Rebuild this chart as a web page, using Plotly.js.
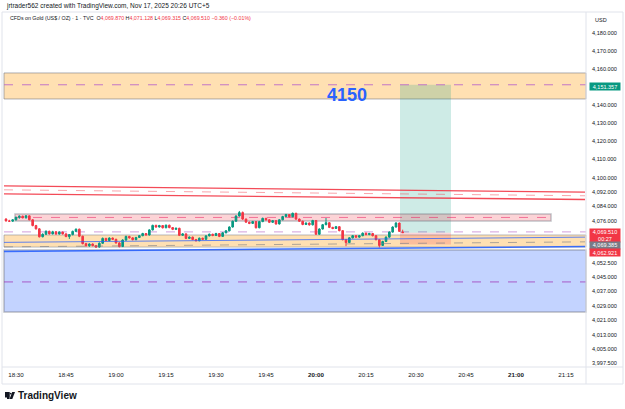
<!DOCTYPE html>
<html>
<head>
<meta charset="utf-8">
<script src="https://cdn.plot.ly/plotly-3.0.1.min.js"></script>
<style>
html,body{margin:0;padding:0;background:#ffffff;}
#chart{width:625px;height:409px;}
</style>
</head>
<body>
<div id="chart"></div>
<script>
// ---- Data (1-minute candles, 18:27 .. 20:26) ----
const startTime = '2025-11-17 18:27';
const openP = [4077.0,4076.0,4075.8,4076.6,4078.0,4078.6,4077.7,4078.8,4076.6,4073.4,
4071.6,4067.2,4068.6,4070.2,4068.8,4070.0,4068.7,4069.8,4068.8,4067.3,
4068.4,4070.2,4071.4,4067.5,4063.4,4062.2,4063.2,4062.3,4061.5,4063.6,
4066.3,4065.1,4066.5,4065.8,4063.8,4061.8,4065.4,4067.4,4066.6,4065.6,
4066.8,4067.8,4069.0,4068.2,4071.0,4073.5,4072.6,4073.4,4072.2,4073.6,
4072.3,4071.3,4071.9,4068.0,4068.8,4066.3,4067.0,4065.7,4065.0,4066.4,
4065.8,4067.7,4068.6,4067.9,4069.0,4067.4,4069.4,4070.5,4072.6,4075.8,
4078.7,4080.6,4077.0,4075.3,4074.6,4075.6,4072.2,4075.6,4077.4,4076.6,
4075.2,4076.1,4074.3,4076.6,4078.4,4079.5,4078.3,4080.2,4077.0,4075.8,
4074.0,4074.8,4073.8,4076.2,4068.6,4071.5,4073.9,4075.0,4072.4,4071.8,
4072.8,4070.6,4065.6,4064.0,4066.6,4067.8,4067.0,4067.8,4069.2,4068.4,
4069.0,4067.8,4065.6,4062.4,4064.6,4067.0,4069.8,4072.6,4074.8,4069.87];
const highP = [4077.5,4076.6,4076.9,4078.3,4079.0,4078.9,4079.2,4079.0,4076.9,4073.8,
4072.0,4069.1,4070.8,4070.6,4070.5,4070.3,4070.2,4070.1,4069.1,4068.7,
4070.6,4071.8,4071.7,4067.8,4063.8,4063.6,4063.5,4062.6,4064.1,4066.8,
4066.6,4066.9,4066.8,4066.1,4064.2,4065.8,4067.8,4067.7,4066.9,4067.2,
4068.2,4069.4,4069.3,4071.4,4073.9,4073.9,4073.8,4073.7,4074.0,4073.9,
4072.6,4072.3,4072.2,4069.2,4069.1,4067.4,4067.3,4066.0,4066.8,4066.7,
4068.1,4069.0,4068.9,4069.4,4069.3,4069.8,4070.9,4073.0,4076.2,4079.1,
4081.5,4081.2,4077.3,4075.6,4076.0,4075.9,4076.0,4077.8,4077.7,4076.9,
4076.5,4076.4,4077.0,4078.8,4079.9,4079.8,4080.6,4080.5,4077.3,4076.1,
4075.2,4075.1,4076.6,4076.5,4071.9,4074.3,4077.6,4075.3,4072.7,4073.2,
4073.1,4070.9,4065.9,4067.0,4068.2,4068.1,4068.2,4069.6,4069.5,4069.4,
4069.3,4068.1,4065.9,4065.0,4067.4,4070.2,4073.0,4075.3,4075.1,4071.128];
const lowP = [4075.6,4075.4,4075.5,4076.2,4077.2,4077.4,4077.3,4076.3,4073.0,4071.2,
4066.8,4066.9,4068.2,4068.4,4068.5,4068.3,4068.4,4068.4,4067.0,4066.0,
4068.0,4069.8,4067.0,4063.0,4061.8,4061.6,4061.9,4061.0,4061.2,4063.3,
4064.8,4064.7,4065.4,4063.4,4061.3,4061.5,4065.0,4066.2,4065.2,4065.3,
4066.5,4067.5,4067.8,4067.9,4070.7,4072.2,4072.3,4071.8,4071.9,4071.9,
4070.9,4071.0,4067.6,4067.7,4065.9,4066.0,4065.3,4064.6,4064.7,4065.4,
4065.5,4067.4,4067.5,4067.6,4067.0,4067.1,4069.1,4070.2,4072.3,4075.5,
4078.4,4076.6,4074.9,4074.2,4074.3,4071.8,4071.9,4075.3,4076.2,4074.8,
4074.9,4073.9,4074.0,4076.3,4078.1,4077.9,4078.0,4076.6,4075.4,4073.6,
4073.7,4073.4,4073.5,4068.2,4068.3,4071.2,4073.6,4072.0,4071.4,4071.5,
4070.2,4065.2,4062.0,4063.7,4066.3,4066.6,4066.7,4067.5,4068.0,4068.1,
4067.4,4065.2,4061.2,4062.1,4064.3,4066.7,4069.5,4072.3,4069.9,4069.315];
const closeP = [4076.0,4075.8,4076.6,4078.0,4078.6,4077.7,4078.8,4076.6,4073.4,4071.6,
4067.2,4068.6,4070.2,4068.8,4070.0,4068.7,4069.8,4068.8,4067.3,4068.4,
4070.2,4071.4,4067.5,4063.4,4062.2,4063.2,4062.3,4061.5,4063.6,4066.3,
4065.1,4066.5,4065.8,4063.8,4061.8,4065.4,4067.4,4066.6,4065.6,4066.8,
4067.8,4069.0,4068.2,4071.0,4073.5,4072.6,4073.4,4072.2,4073.6,4072.3,
4071.3,4071.9,4068.0,4068.8,4066.3,4067.0,4065.7,4065.0,4066.4,4065.8,
4067.7,4068.6,4067.9,4069.0,4067.4,4069.4,4070.5,4072.6,4075.8,4078.7,
4080.6,4077.0,4075.3,4074.6,4075.6,4072.2,4075.6,4077.4,4076.6,4075.2,
4076.1,4074.3,4076.6,4078.4,4079.5,4078.3,4080.2,4077.0,4075.8,4074.0,
4074.8,4073.8,4076.2,4068.6,4071.5,4073.9,4075.0,4072.4,4071.8,4072.8,
4070.6,4065.6,4064.0,4066.6,4067.8,4067.0,4067.8,4069.2,4068.4,4069.0,
4067.8,4065.6,4062.4,4064.6,4067.0,4069.8,4072.6,4074.8,4070.2,4069.51];

// axis ticks
const timeTicks = ['2025-11-17 18:30','2025-11-17 18:45','2025-11-17 19:00','2025-11-17 19:15','2025-11-17 19:30','2025-11-17 19:45','2025-11-17 20:00','2025-11-17 20:15','2025-11-17 20:30','2025-11-17 20:45','2025-11-17 21:00','2025-11-17 21:15'];
const timeLabels = ['18:30','18:45','19:00','19:15','19:30','19:45','<b>20:00</b>','20:15','20:30','20:45','<b>21:00</b>','21:15'];
const priceTicks = [4180,4170,4160,4140,4130,4120,4110,4100,4092,4084,4076,4052.5,4045,4037,4029,4021,4013,4005,3997.5];

// drawing levels
const targetPrice = 4151.357, entryPrice = 4069.385, stopPrice = 4062.921, lastPrice = 4069.51;
const upperZone = [4143.5, 4157.9];
const pinkZone = [4075.9, 4079.8], pinkMid = 4077.9;
const lowerZone = [4061.5, 4068.2];
const blueZone = [4025.6, 4059.9], blueMid = 4042.2;
const purpleLine = 4069.9;
const redTop = [4095.4, 4091.9], redMid = [4093.2, 4089.9], redBot = [4090.95, 4087.85];
const blueUp = [4064.1, 4067.0], blueMidCh = [4061.6, 4064.4], blueLow = [4059.1, 4061.8];

// ---- build ----
const times = [];
for (let i = 0; i < openP.length; i++) {
  const m = 27 + i;
  const hh = 18 + Math.floor(m / 60), mm = m % 60;
  times.push('2025-11-17 ' + hh + ':' + String(mm).padStart(2, '0'));
}
const fmt = v => v.toLocaleString('en-US', {minimumFractionDigits: 3, maximumFractionDigits: 3});

const xL = '2025-11-17 18:26:24', xR = '2025-11-17 21:21:00';
const xEdgeL = '2025-11-17 18:26:24', xEdgeR = '2025-11-17 21:20:42';

const FONT = 'Liberation Sans, Arial, sans-serif';
const txt = '#131722';

function sline(p, color, dash, width) {
  return {type:'line', xref:'x', yref:'y', x0:xEdgeL, x1:xEdgeR, y0:p[0], y1:p[1], line:{color:color, dash:dash||'solid', width:width||1}, layer:'above'};
}
const px = p => (p - 4) / 582;   // paper x from pixel
const py = p => (367 - p) / 354; // paper y from pixel

const shapes = [
  // upper orange zone
  {type:'rect', xref:'paper', yref:'y', x0:0, x1:1, y0:upperZone[0], y1:upperZone[1], fillcolor:'rgba(255,152,0,0.3)', line:{color:'rgba(120,123,134,0.6)', width:1}, layer:'below'},
  // long position
  {type:'rect', xref:'x', yref:'y', x0:'2025-11-17 20:25:12', x1:'2025-11-17 20:40:30', y0:entryPrice, y1:targetPrice, fillcolor:'rgba(8,153,129,0.2)', line:{width:0}, layer:'below'},
  {type:'rect', xref:'x', yref:'y', x0:'2025-11-17 20:25:12', x1:'2025-11-17 20:40:30', y0:stopPrice, y1:entryPrice, fillcolor:'rgba(242,54,69,0.2)', line:{width:0}, layer:'below'},
  {type:'line', xref:'paper', yref:'y', x0:0, x1:1, y0:targetPrice, y1:targetPrice, line:{color:'rgba(186,104,200,0.9)', dash:'dash', width:1}, layer:'above'},
  // pink zone
  {type:'rect', xref:'x', yref:'y', x0:'2025-11-17 18:29:42', x1:'2025-11-17 21:10:30', y0:pinkZone[0], y1:pinkZone[1], fillcolor:'rgba(242,54,69,0.22)', line:{color:'rgba(120,123,134,0.45)', width:1.5}, layer:'below'},
  {type:'line', xref:'x', yref:'y', x0:'2025-11-17 18:29:42', x1:'2025-11-17 21:10:30', y0:pinkMid, y1:pinkMid, line:{color:'rgba(233,30,99,0.55)', dash:'dash', width:1}, layer:'below'},
  // lower orange zone
  {type:'rect', xref:'paper', yref:'y', x0:0, x1:1, y0:lowerZone[0], y1:lowerZone[1], fillcolor:'rgba(255,152,0,0.3)', line:{color:'rgba(120,123,134,0.5)', width:1}, layer:'below'},
  // blue zone
  {type:'rect', xref:'paper', yref:'y', x0:0, x1:1, y0:blueZone[0], y1:blueZone[1], fillcolor:'rgba(41,98,255,0.28)', line:{color:'rgba(120,123,134,0.5)', width:1.5}, layer:'below'},
  {type:'line', xref:'paper', yref:'y', x0:0, x1:1, y0:blueMid, y1:blueMid, line:{color:'rgba(156,39,176,0.7)', dash:'dash', width:1}, layer:'below'},
  // purple dashed
  {type:'line', xref:'paper', yref:'y', x0:0, x1:1, y0:purpleLine, y1:purpleLine, line:{color:'rgba(156,39,176,0.45)', dash:'dash', width:1}, layer:'below'},
  // red channel
  sline(redTop, 'rgba(242,54,69,0.9)', 'solid', 1.3),
  sline(redMid, 'rgba(242,54,69,0.45)', 'dash', 1),
  sline(redBot, 'rgba(242,54,69,0.9)', 'solid', 1.3),
  // blue channel
  sline(blueUp, 'rgba(41,98,255,0.75)', 'solid', 1),
  sline(blueMidCh, 'rgba(120,123,134,0.6)', 'dash', 1),
  sline(blueLow, 'rgba(41,98,255,0.9)', 'solid', 1.5),
  // frames
  {type:'rect', xref:'paper', yref:'paper', x0:px(2), x1:px(623), y0:py(384), y1:py(12), line:{color:'#e0e3eb', width:1}, layer:'above'},
  {type:'line', xref:'paper', yref:'paper', x0:1, x1:1, y0:py(384), y1:py(12), line:{color:'#e0e3eb', width:1}, layer:'above'},
  {type:'line', xref:'paper', yref:'paper', x0:px(2), x1:px(623), y0:0, y1:0, line:{color:'#e0e3eb', width:1}, layer:'above'},
  // TradingView logo glyph
  {type:'rect', xref:'paper', yref:'paper', x0:px(5), x1:px(9.5), y0:py(397.5), y1:py(392), fillcolor:txt, line:{width:0}},
  {type:'rect', xref:'paper', yref:'paper', x0:px(7), x1:px(9.5), y0:py(399), y1:py(392), fillcolor:txt, line:{width:0}},
  {type:'circle', xref:'paper', yref:'paper', x0:px(9.8), x1:px(11.6), y0:py(394.5), y1:py(392.7), fillcolor:txt, line:{width:0}},
  {type:'path', xref:'paper', yref:'paper', path:'M '+px(12.2)+' '+py(392)+' L '+px(15)+' '+py(392)+' L '+px(12.3)+' '+py(399)+' L '+px(9.6)+' '+py(399)+' Z', fillcolor:txt, line:{width:0}}
];

const annotations = [
  {xref:'paper', yref:'paper', x:px(4), y:py(6), xanchor:'left', yanchor:'middle', showarrow:false,
   text:'jrtrader562 created with TradingView.com, Nov 17, 2025 20:26 UTC+5', font:{family:FONT, size:6.5, color:txt}},
  {xref:'paper', yref:'paper', x:px(8), y:py(18), xanchor:'left', yanchor:'middle', showarrow:false,
   text:'CFDs on Gold (US$ / OZ) · 1 · TVC  O<span style="color:#f23645">4,069.870</span> H<span style="color:#f23645">4,071.128</span> L<span style="color:#f23645">4,069.315</span> C<span style="color:#f23645">4,069.510</span> <span style="color:#f23645">−0.360 (−0.01%)</span>',
   font:{family:FONT, size:5.3, color:txt}},
  {xref:'paper', yref:'paper', x:px(593), y:py(20), xanchor:'left', yanchor:'middle', showarrow:false,
   text:'USD', font:{family:FONT, size:5.5, color:txt}},
  {xref:'x', yref:'y', x:'2025-11-17 20:09:24', y:4145.6, xanchor:'center', yanchor:'middle', showarrow:false,
   text:'<b>4150</b>', font:{family:FONT, size:18, color:'#2962ff'}},
  {xref:'paper', yref:'y', x:px(588.5), y:targetPrice, yshift:-1.5, xanchor:'left', yanchor:'middle', showarrow:false,
   text:fmt(targetPrice), bgcolor:'#089981', width:30, height:7, borderpad:0, font:{family:FONT, size:5.5, color:'#ffffff'}},
  {xref:'paper', yref:'y', x:px(588.5), y:lastPrice, yshift:-3, xanchor:'left', yanchor:'middle', showarrow:false,
   text:fmt(lastPrice)+'<br>00:27', bgcolor:'#f23645', width:30, height:12.5, borderpad:0, font:{family:FONT, size:5.5, color:'#ffffff'}},
  {xref:'paper', yref:'y', x:px(588.5), y:entryPrice, yshift:-12.8, xanchor:'left', yanchor:'middle', showarrow:false,
   text:fmt(entryPrice), bgcolor:'#787b86', width:30, height:6.5, borderpad:0, font:{family:FONT, size:5.5, color:'#ffffff'}},
  {xref:'paper', yref:'y', x:px(588.5), y:stopPrice, yshift:-8, xanchor:'left', yanchor:'middle', showarrow:false,
   text:fmt(stopPrice), bgcolor:'#f23645', width:30, height:7, borderpad:0, font:{family:FONT, size:5.5, color:'#ffffff'}},
  {xref:'paper', yref:'paper', x:px(16), y:py(395.5), xanchor:'left', yanchor:'middle', showarrow:false,
   text:'<b>TradingView</b>', font:{family:FONT, size:10, color:txt}}
];

const trace = {
  type:'candlestick', x:times, open:openP, high:highP, low:lowP, close:closeP,
  increasing:{line:{color:'#089981', width:1}, fillcolor:'#089981'},
  decreasing:{line:{color:'#f23645', width:1}, fillcolor:'#f23645'},
  whiskerwidth:0, hoverinfo:'skip', showlegend:false
};

const layout = {
  width:625, height:409,
  margin:{l:4, r:39, t:13, b:42},
  paper_bgcolor:'#ffffff', plot_bgcolor:'#ffffff',
  showlegend:false,
  font:{family:FONT, color:txt},
  xaxis:{type:'date', range:[xL, xR], rangeslider:{visible:false}, showgrid:false, zeroline:false,
    tickmode:'array', tickvals:timeTicks, ticktext:timeLabels, ticks:'', ticklabelstandoff:3,
    tickfont:{family:FONT, size:6.2, color:txt}, showline:false, fixedrange:true},
  yaxis:{side:'right', range:[3995.1, 4191.1], showgrid:false, zeroline:false, ticks:'',
    tickmode:'array', tickvals:priceTicks, ticktext:priceTicks.map(fmt),
    tickfont:{family:FONT, size:5.6, color:txt}, ticklabelstandoff:5, showline:false, fixedrange:true},
  shapes:shapes, annotations:annotations
};

Plotly.newPlot('chart', [trace], layout, {displayModeBar:false, staticPlot:true});
</script>
</body>
</html>
